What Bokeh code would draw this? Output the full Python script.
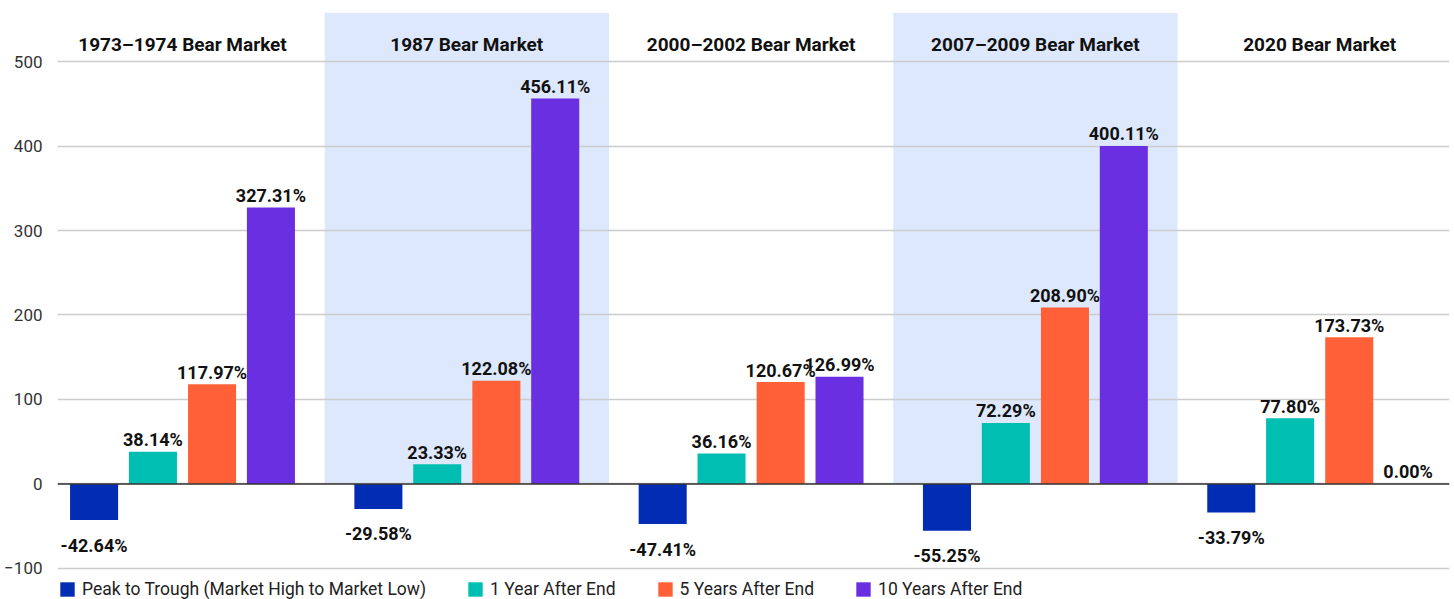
from bokeh.plotting import figure
from bokeh.models import (ColumnDataSource, Range1d, FixedTicker, Span, Legend,
                          LegendItem)
from bokeh.core.properties import value
from bokeh.transform import dodge
from bokeh.embed import file_html
from bokeh.resources import INLINE

# ---- data ----
categories = ["1973\u20131974 Bear Market", "1987 Bear Market",
              "2000\u20132002 Bear Market", "2007\u20132009 Bear Market",
              "2020 Bear Market"]
series_names = ["Peak to Trough (Market High to Market Low)", "1 Year After End",
                "5 Years After End", "10 Years After End"]
peak_to_trough = [-42.64, -29.58, -47.41, -55.25, -33.79]
one_year = [38.14, 23.33, 36.16, 72.29, 77.80]
five_years = [117.97, 122.08, 120.67, 208.90, 173.73]
ten_years = [327.31, 456.11, 126.99, 400.11, 0.00]
y_ticks = [-100, 0, 100, 200, 300, 400, 500]
shaded = [1, 3]  # indices of shaded groups

series = [peak_to_trough, one_year, five_years, ten_years]
colors = ["#002db4", "#00bfb2", "#ff6038", "#6a2fe0"]
offsets = [-0.311, -0.104, 0.104, 0.311]
BAR_W = 0.169

FONT = "Roboto"
Y_TOP = 558
Y_BOTTOM = -136.7

p = figure(width=1454, height=599, output_backend="svg", toolbar_location=None,
           x_range=Range1d(-0.4397, 4.4566), y_range=Range1d(Y_BOTTOM, Y_TOP),
           x_axis_type=None, min_border_left=57, min_border_right=5,
           min_border_top=12, min_border_bottom=0)
p.outline_line_color = None
p.background_fill_color = "white"
p.border_fill_color = "white"

# shaded groups
sh = p.quad(left=[i - 0.5 for i in shaded], right=[i + 0.5 for i in shaded],
            bottom=0, top=Y_TOP, fill_color="#dde8fd", line_color=None)
sh.level = "image"

# grid / axis
p.yaxis.ticker = FixedTicker(ticks=y_ticks)
p.ygrid.ticker = FixedTicker(ticks=y_ticks)
p.ygrid.grid_line_color = "#cccccc"
p.ygrid.grid_line_width = 1.5
p.yaxis.axis_line_color = None
p.yaxis.major_tick_line_color = None
p.yaxis.minor_tick_line_color = None
p.yaxis.major_tick_out = 0
p.yaxis.major_label_standoff = 15
p.yaxis.major_label_text_font = FONT
p.yaxis.major_label_text_font_size = "17px"
p.yaxis.major_label_text_color = "#333333"

idx = list(range(len(categories)))
items = []
for k, (vals, name, col, off) in enumerate(zip(series, series_names, colors, offsets)):
    src = ColumnDataSource(dict(
        x=idx, v=vals,
        lbl=["%.2f%%" % v for v in vals],
        yoff=[-12 if v >= 0 else 25 for v in vals],
    ))
    r = p.vbar(x=dodge("x", off, range=p.x_range), top="v", bottom=0, width=BAR_W,
               source=src, fill_color=col, line_color=None)
    p.text(x=dodge("x", off, range=p.x_range), y="v", text="lbl", source=src,
           y_offset="yoff", text_align="center", text_baseline="alphabetic",
           text_font=value(FONT), text_font_style="bold",
           text_font_size="18px", text_color="#111111")
    items.append(LegendItem(label=name, renderers=[r]))

# group titles
tsrc = ColumnDataSource(dict(x=idx, t=categories))
p.text(x="x", y=520, text="t", source=tsrc, text_align="center",
       text_baseline="alphabetic", text_font=value(FONT), text_font_style="bold",
       text_font_size="19px", text_color="#111111")

p.add_layout(Span(location=0, dimension="width", line_color="#333333",
                  line_width=1.5))

legend = Legend(items=items, orientation="horizontal", location=(1, 0),
                padding=0, margin=0, spacing=40, glyph_width=18, glyph_height=18,
                label_standoff=6, background_fill_alpha=0, border_line_alpha=0,
                label_text_font=FONT, label_text_font_size="17.5px",
                label_text_color="#222222")
p.add_layout(legend)

open("out.html", "w").write(file_html(p, INLINE))
